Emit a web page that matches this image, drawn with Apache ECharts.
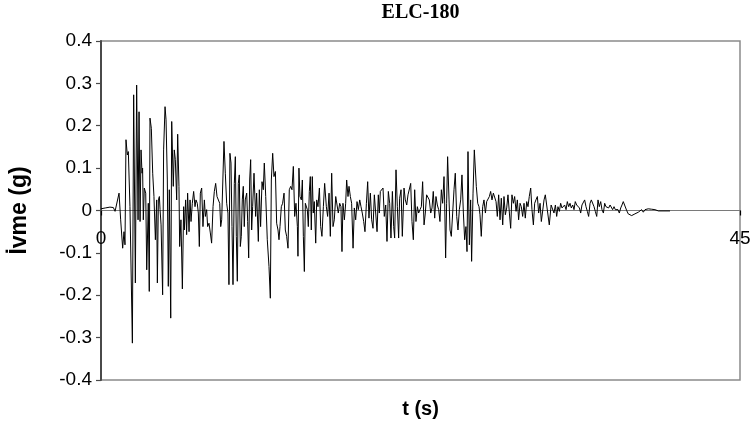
<!DOCTYPE html>
<html>
<head>
<meta charset="utf-8">
<script src="https://cdn.jsdelivr.net/npm/echarts@6/dist/echarts.min.js"></script>
<style>
html,body{margin:0;padding:0;background:#fff;}
#chart{width:755px;height:431px;}
</style>
</head>
<body>
<div id="chart"></div>
<script>
// Ground acceleration record: [time (s), acceleration (g)]
const chartTitle = 'ELC-180';
const xAxisName = 't (s)';
const yAxisName = 'İvme (g)';
const xTicks = [0, 45];
const yTicks = [-0.4, -0.3, -0.2, -0.1, 0, 0.1, 0.2, 0.3, 0.4];

const onsetPhase = [
  [0, 0.004], [0.3, 0.006], [0.63, 0.008], [0.87, 0.007], [0.99, -0.002], [1.10, -0.006],
  [1.27, 0.041], [1.385, -0.022], [1.526, -0.089], [1.62, -0.05], [1.69, -0.081], [1.76, 0.167],
  [1.855, 0.131], [1.925, 0.139], [2.04, 0.009], [2.21, -0.313], [2.30, 0.273], [2.42, -0.171],
  [2.51, 0.296], [2.61, -0.022], [2.68, 0.233], [2.75, -0.026], [2.82, 0.143], [2.89, 0.088],
  [2.93, 0.1], [2.98, -0.022], [3.05, 0.053], [3.15, 0.041], [3.22, -0.14], [3.33, 0.017],
  [3.40, -0.191], [3.45, 0.218], [3.545, 0.194], [3.64, 0.088], [3.73, 0.033], [3.83, -0.069],
  [3.92, 0.025], [3.97, -0.171], [4.04, 0.025], [4.11, 0.033], [4.16, 0.002], [4.23, -0.034],
  [4.34, -0.199], [4.41, 0.143], [4.51, 0.245], [4.58, 0.214], [4.67, 0.072], [4.74, -0.179],
  [4.81, 0.049], [4.91, -0.254], [4.98, 0.21], [5.09, 0.057], [5.16, 0.143], [5.235, 0.12],
  [5.33, 0.025], [5.40, 0.18], [5.49, 0.057], [5.54, -0.085], [5.63, -0.022], [5.73, -0.185]
];

const strongPhase = [
  [5.82, 0.009], [5.87, -0.046], [5.96, 0.025], [6.03, -0.057], [6.10, 0.041], [6.20, -0.05],
  [6.27, 0.025], [6.34, -0.026], [6.43, 0.017], [6.525, 0.045], [6.62, 0.009], [6.69, 0.025],
  [6.78, 0.017], [6.855, -0.006], [6.925, -0.085], [6.995, 0.041], [7.09, 0.053], [7.18, -0.038],
  [7.28, 0.025], [7.35, -0.014], [7.44, 0.002], [7.51, -0.038], [7.605, -0.03], [7.70, -0.053],
  [7.79, -0.077], [7.89, 0.009], [7.98, 0.045], [8.075, 0.064], [8.17, 0.033], [8.26, 0.037],
  [8.36, 0.017], [8.43, -0.038], [8.50, -0.022], [8.59, -0.026], [8.66, 0.163], [8.755, 0.088],
  [8.85, 0.017], [8.94, -0.006], [9.01, -0.175], [9.08, 0.135], [9.155, 0.112], [9.225, -0.038],
  [9.295, -0.175], [9.39, 0.064], [9.46, 0.127], [9.53, -0.061], [9.60, -0.167], [9.67, 0.064],
  [9.74, 0.084], [9.81, -0.085], [9.88, -0.061], [9.95, 0.025], [10.02, 0.057], [10.09, -0.038],
  [10.16, 0.025], [10.26, 0.041], [10.33, -0.026], [10.40, -0.112], [10.47, 0.072], [10.54, 0.12],
  [10.61, -0.046], [10.68, 0.009], [10.775, 0.088], [10.89, -0.014], [10.96, 0.041], [11.08, -0.073],
  [11.15, 0.049], [11.24, -0.038], [11.34, 0.068], [11.43, 0.049], [11.50, 0.112], [11.60, 0.033],
  [11.71, -0.069], [11.83, -0.132], [11.925, -0.207], [11.995, 0.072], [12.09, 0.135], [12.18, 0.08],
  [12.28, 0.092], [12.37, -0.03], [12.465, -0.046], [12.535, -0.069], [12.605, -0.038], [12.70, 0.009],
  [12.79, 0.017], [12.89, 0.041], [12.98, -0.046], [13.075, -0.061], [13.17, -0.089], [13.26, 0.049],
  [13.36, 0.057], [13.45, 0.049], [13.545, 0.104], [13.64, -0.014], [13.73, 0.017], [13.83, -0.038],
  [13.87, -0.108], [13.94, 0.1], [14.01, 0.033], [14.11, 0.025], [14.18, 0.072], [14.25, -0.061],
  [14.32, -0.144], [14.39, 0.017], [14.46, 0.021], [14.53, 0.002], [14.60, -0.038], [14.67, 0.045],
  [14.74, 0.08], [14.81, -0.046], [14.88, 0.08], [14.95, -0.006], [15.02, 0.021], [15.12, -0.077],
  [15.19, 0.025], [15.28, 0.009], [15.38, 0.053], [15.47, -0.038], [15.56, -0.061], [15.66, 0.009],
  [15.75, 0.064]
];

const middlePhase = [
  [15.87, 0.009], [15.96, -0.014], [16.06, 0.041], [16.15, -0.061], [16.245, 0.088], [16.34, -0.038],
  [16.43, -0.022], [16.53, 0.033], [16.62, 0.037], [16.71, -0.006], [16.81, 0.017], [16.90, 0.009],
  [16.97, -0.097], [17.04, 0.017], [17.14, -0.022], [17.23, 0.017], [17.30, 0.072], [17.395, 0.033],
  [17.465, 0.057], [17.56, 0.033], [17.65, 0.017], [17.75, -0.089], [17.84, 0.006], [17.935, -0.022],
  [18.03, 0.021], [18.12, 0.002], [18.22, 0.025], [18.31, 0.009], [18.40, -0.006], [18.50, -0.026],
  [18.59, -0.05], [18.69, 0.017], [18.78, 0.068], [18.87, -0.018], [18.97, 0.041], [19.06, -0.022],
  [19.155, -0.042], [19.25, 0.037], [19.34, 0.033], [19.44, -0.05], [19.53, 0.037], [19.60, -0.006],
  [19.67, 0.045], [19.765, 0.049], [19.86, 0.053], [19.95, -0.014], [20.05, 0.013], [20.14, -0.073],
  [20.235, 0.045], [20.33, 0.017], [20.42, -0.065], [20.52, 0.045], [20.61, -0.038], [20.68, -0.065],
  [20.775, 0.096], [20.87, 0.009], [20.96, -0.065], [21.03, 0.029], [21.13, 0.049], [21.22, -0.061],
  [21.34, 0.053], [21.43, 0.025], [21.53, 0.013], [21.62, 0.037], [21.71, 0.033], [21.81, 0.064],
  [21.90, -0.026], [21.995, -0.069], [22.09, 0.049], [22.18, -0.026], [22.28, 0.009], [22.37, -0.006],
  [22.465, 0.002], [22.56, 0.009], [22.65, 0.068], [22.75, -0.034], [22.84, -0.006], [22.93, 0.037],
  [23.03, 0.033], [23.12, 0.025], [23.22, -0.006], [23.31, 0.006], [23.40, 0.045], [23.50, -0.018],
  [23.59, 0.033], [23.685, 0.013], [23.78, 0.002], [23.87, -0.026], [23.97, 0.049], [24.06, 0.017],
  [24.155, 0.08], [24.20, 0.025], [24.27, -0.112], [24.34, 0.017], [24.41, 0.127], [24.51, 0.025],
  [24.58, -0.046], [24.67, -0.061], [24.765, -0.006], [24.86, 0.049], [24.95, 0.088], [25.05, -0.014],
  [25.14, -0.046], [25.235, 0.002], [25.33, 0.025], [25.42, 0.084], [25.52, -0.006], [25.61, -0.069],
  [25.70, -0.038], [25.775, -0.097], [25.845, 0.139], [25.94, -0.081], [26.03, 0.025], [26.10, -0.12],
  [26.20, 0.041], [26.29, 0.143]
];

const latePhase = [
  [26.43, 0.057], [26.53, 0.017], [26.62, 0.009], [26.69, -0.01], [26.78, -0.061], [26.88, 0.009],
  [26.97, 0.025], [27.07, -0.006], [27.16, 0.021], [27.25, 0.025], [27.35, 0.033], [27.44, 0.045],
  [27.535, 0.025], [27.63, 0.041], [27.72, 0.045], [27.82, 0.021], [27.91, -0.014], [28.005, 0.037],
  [28.10, -0.022], [28.19, 0.029], [28.29, -0.034], [28.38, 0.033], [28.475, -0.01], [28.57, 0.006],
  [28.66, 0.037], [28.76, -0.006], [28.85, -0.042], [28.94, 0.037], [29.04, 0.017], [29.13, 0.033],
  [29.23, -0.002], [29.32, 0.025], [29.41, -0.022], [29.51, 0.017], [29.60, 0.009], [29.695, -0.014],
  [29.79, 0.017], [29.88, -0.018], [29.98, 0.021], [30.07, 0.009], [30.16, 0.033], [30.26, 0.053],
  [30.35, 0.002], [30.45, -0.034], [30.54, 0.017], [30.63, 0.025], [30.73, 0.033], [30.82, -0.006],
  [30.92, 0.017], [31.01, -0.026], [31.10, -0.03], [31.20, 0.025], [31.29, 0.037], [31.385, 0.013],
  [31.48, 0.009], [31.57, -0.034], [31.70, 0.013], [31.81, 0.017], [31.90, -0.006], [32.0, 0.013],
  [32.09, -0.014], [32.18, 0.009], [32.28, -0.002], [32.37, 0.017], [32.465, 0.006], [32.56, 0.009],
  [32.65, 0.013], [32.75, 0.002], [32.84, 0.021], [32.935, 0.009], [33.03, 0.017], [33.12, 0.006],
  [33.22, 0.013], [33.31, 0.002], [33.40, 0.021], [33.50, 0.013], [33.59, 0.017], [33.69, 0.006],
  [33.78, -0.006], [33.87, 0.013], [33.97, 0.017], [34.06, 0.025], [34.155, 0.009], [34.25, -0.002],
  [34.34, -0.014], [34.44, 0.017], [34.53, 0.025], [34.625, 0.029], [34.72, 0.009], [34.81, -0.002],
  [34.91, -0.014], [35.0, 0.025], [35.09, 0.009], [35.19, 0.021], [35.28, 0.002], [35.38, -0.006],
  [35.47, 0.017], [35.56, 0.009], [35.66, 0.009], [35.75, 0.006], [35.85, 0.013], [35.94, 0.009],
  [36.03, 0.002], [36.13, 0.009], [36.22, 0.002], [36.31, 0.006], [36.41, 0.002], [36.50, -0.006],
  [36.60, 0.006], [36.69, 0.013], [36.78, 0.021]
];

const codaPhase = [
  [36.90, 0.024], [37.02, 0], [37.13, -0.008], [37.25, -0.004], [37.37, -0.012], [37.49, -0.016],
  [37.60, -0.008], [37.72, -0.012], [37.84, -0.004], [37.96, -0.008], [38.07, 0.002], [38.19, -0.004],
  [38.31, 0.002], [38.43, -0.002], [38.54, 0.004], [38.66, 0], [38.78, 0.003], [38.90, 0.005],
  [39.01, 0.002], [39.13, -0.001], [39.25, -0.001], [40.07, -0.001]
];

const record = [].concat(onsetPhase, strongPhase, middlePhase, latePhase, codaPhase);

const GRID = {left: 101, right: 15, top: 41, bottom: 51};
const chartH = 431;
const plotH = chartH - GRID.top - GRID.bottom;
// place the time axis where acceleration is zero
const zeroOffset = -plotH * (0 - yTicks[0]) / (yTicks[yTicks.length - 1] - yTicks[0]);

const chart = echarts.init(document.getElementById('chart'), null, {renderer: 'canvas'});
const labelFont = 'Liberation Sans, Arial, sans-serif';
chart.setOption({
  animation: false,
  backgroundColor: '#fff',
  title: {
    text: chartTitle,
    left: 420.5,
    top: 3,
    padding: 0,
    textAlign: 'center',
    textStyle: {fontFamily: 'Liberation Serif, Times New Roman, serif', fontWeight: 'bold', fontSize: 20, color: '#000'}
  },
  grid: {
    left: GRID.left, right: GRID.right, top: GRID.top, bottom: GRID.bottom,
    containLabel: false, outerBoundsMode: 'none',
    show: true, borderColor: '#8a8a8a', borderWidth: 1.5, backgroundColor: 'transparent'
  },
  xAxis: {
    type: 'value',
    position: 'bottom',
    offset: zeroOffset,
    min: xTicks[0], max: xTicks[xTicks.length - 1], interval: xTicks[1] - xTicks[0],
    axisLine: {show: true, onZero: false, lineStyle: {color: '#7a7a7a', width: 1.2}},
    axisTick: {show: true, length: 5, lineStyle: {color: '#000', width: 1.2}},
    axisLabel: {fontFamily: labelFont, fontSize: 19, color: '#000', margin: 19},
    splitLine: {show: false},
    name: xAxisName, nameLocation: 'middle', nameGap: 189,
    nameTextStyle: {fontFamily: labelFont, fontWeight: 'bold', fontSize: 20, color: '#000'}
  },
  yAxis: {
    type: 'value',
    min: yTicks[0], max: yTicks[yTicks.length - 1], interval: 0.1,
    axisLine: {show: true, lineStyle: {color: '#4a4a4a', width: 2}},
    axisTick: {show: true, length: 5, lineStyle: {color: '#4a4a4a', width: 1.2}},
    axisLabel: {fontFamily: labelFont, fontSize: 19, color: '#000', margin: 9,
      formatter: function (v) { return String(Math.round(v * 10) / 10); }},
    splitLine: {show: false},
    name: yAxisName, nameLocation: 'middle', nameGap: 70,
    nameTextStyle: {fontFamily: labelFont, fontWeight: 'bold', fontSize: 23, color: '#000'}
  },
  series: [{
    type: 'line',
    data: record,
    showSymbol: false,
    symbol: 'none',
    lineStyle: {color: '#000', width: 1},
    animation: false
  }]
});
</script>
</body>
</html>
